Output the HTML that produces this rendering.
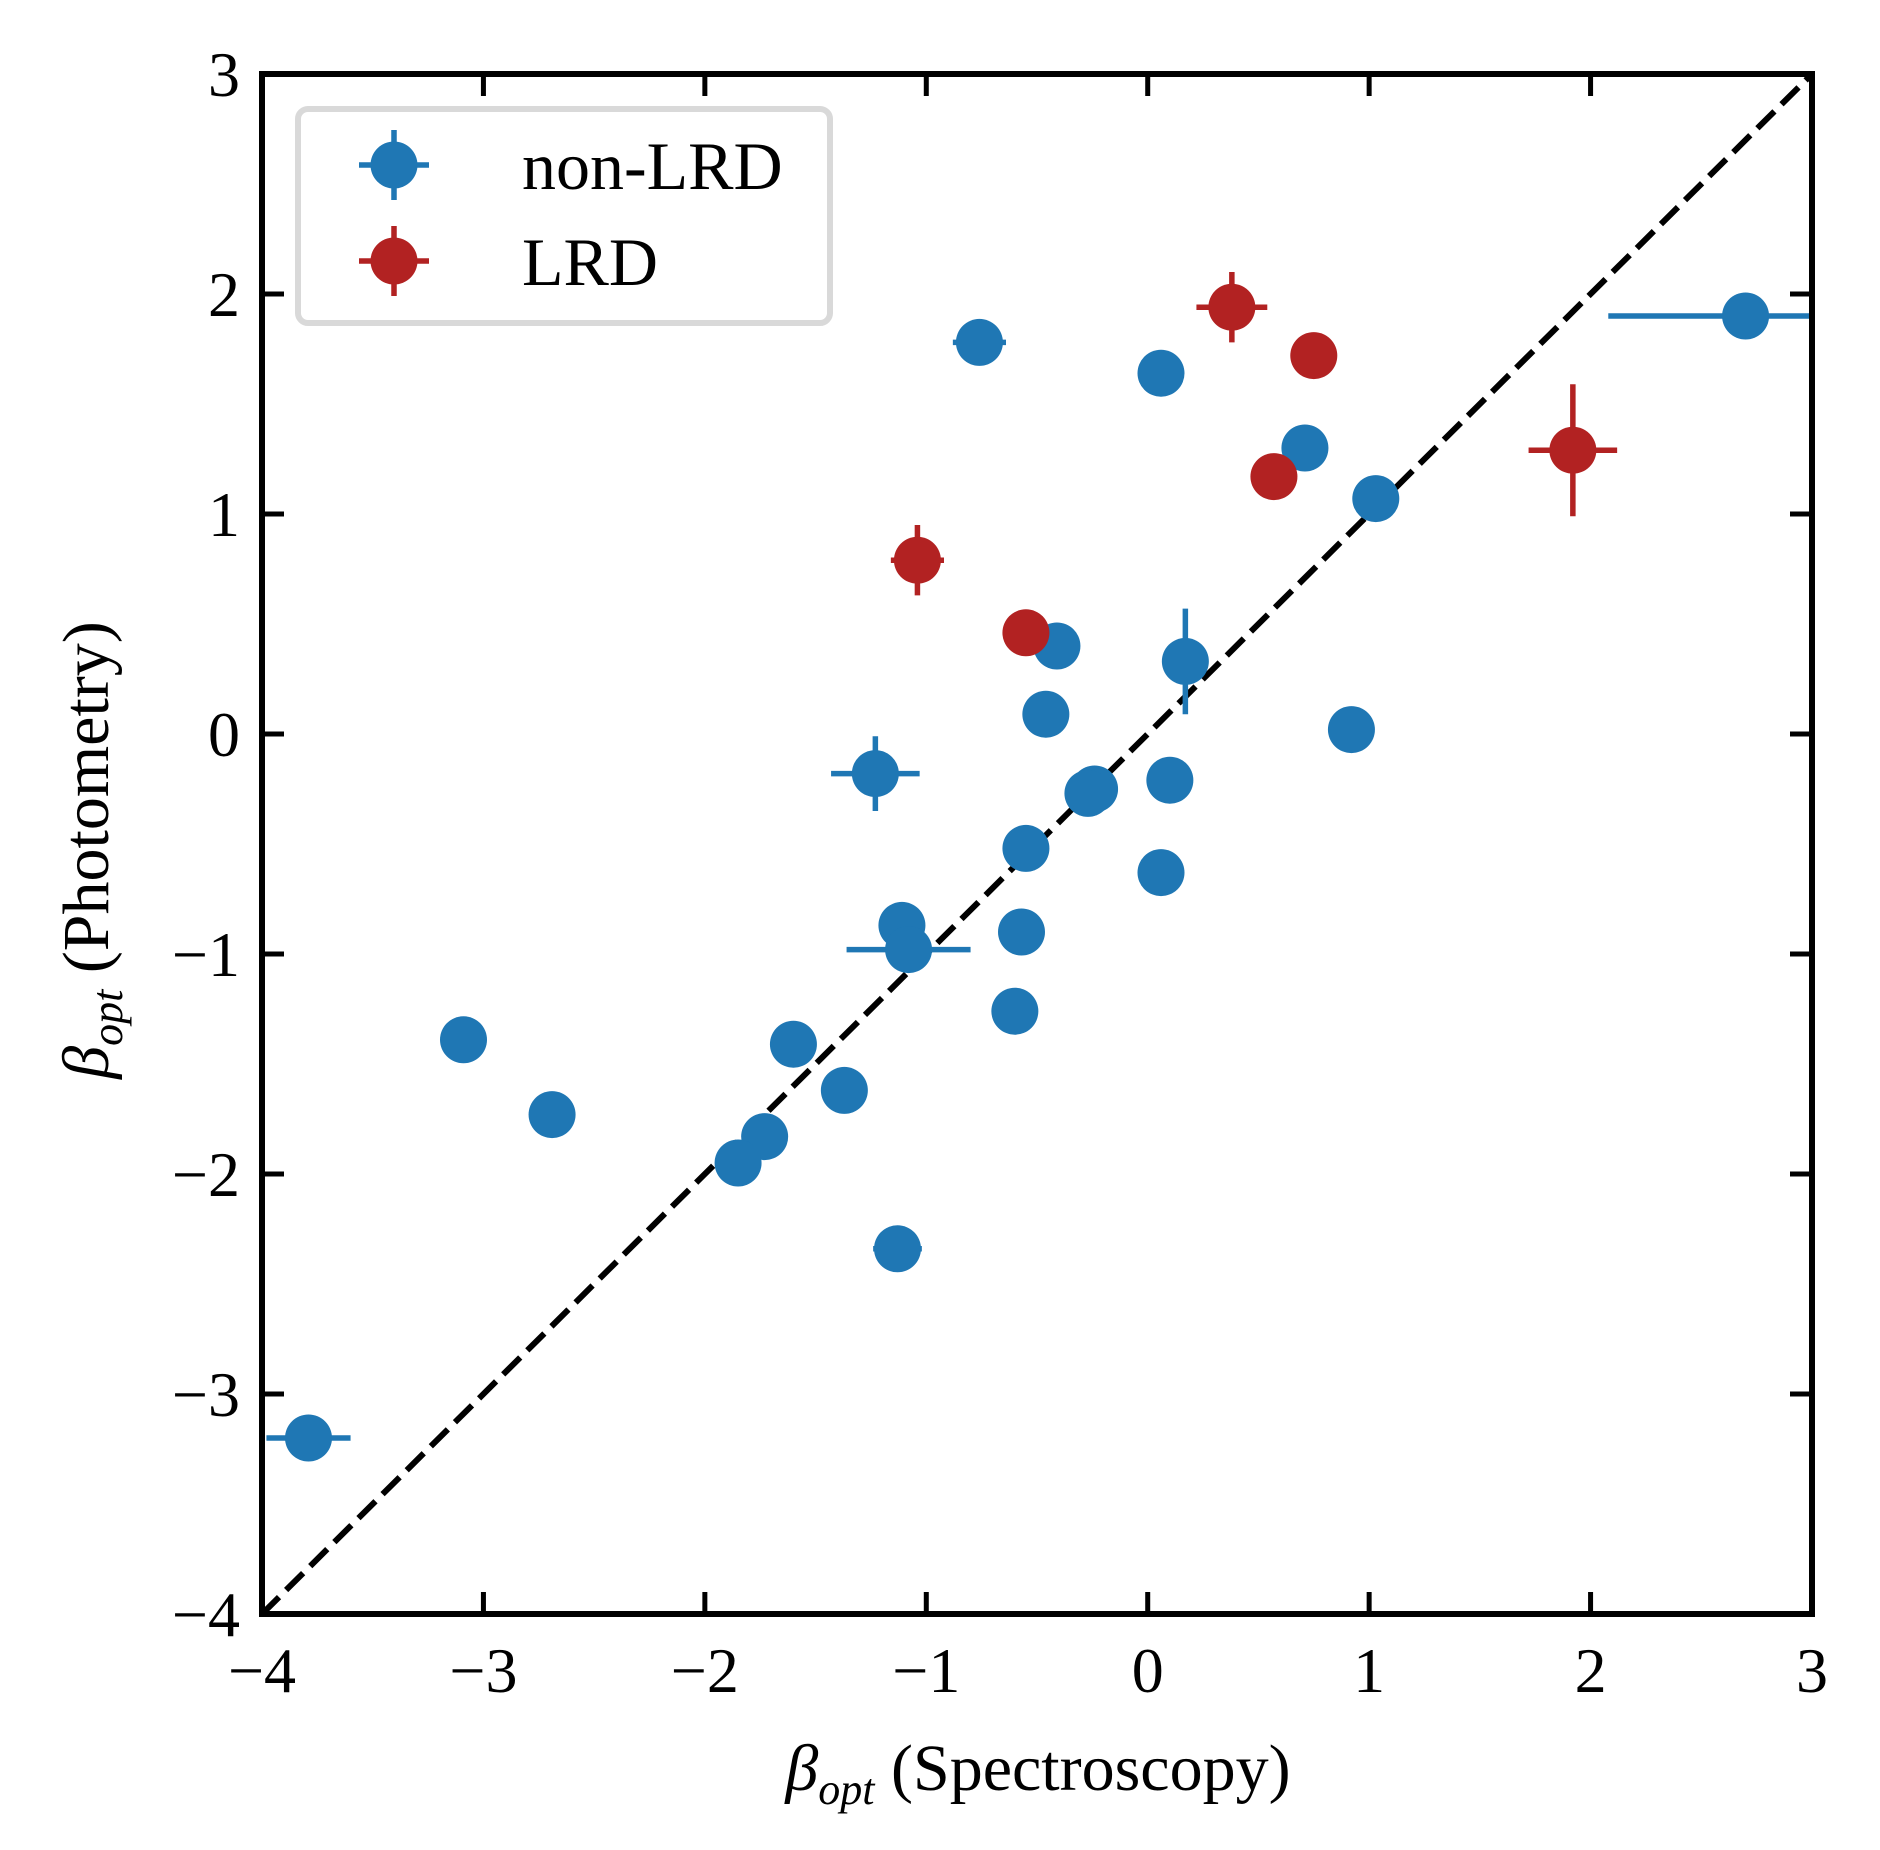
<!DOCTYPE html>
<html><head><meta charset="utf-8"><style>
html,body{margin:0;padding:0;background:#fff;width:1880px;height:1850px;overflow:hidden}
text{font-family:"Liberation Serif","DejaVu Serif",serif;fill:#000}
</style></head><body>
<svg id="chart" width="1880" height="1850" viewBox="0 0 1880 1850" xmlns="http://www.w3.org/2000/svg">
</svg>
<script>
const nonX=[-0.76,0.06,0.71,1.03,2.70,-0.41,0.17,-0.46,0.92,-1.23,0.10,-0.24,-0.27,-0.55,0.06,-1.11,-1.08,-0.57,-0.60,-3.09,-1.60,-1.37,-2.69,-1.73,-1.85,-1.13,-3.79];
const nonY=[1.78,1.64,1.30,1.07,1.90,0.40,0.33,0.09,0.02,-0.18,-0.21,-0.25,-0.27,-0.52,-0.63,-0.87,-0.98,-0.90,-1.26,-1.39,-1.41,-1.62,-1.73,-1.83,-1.95,-2.34,-3.20];
const nonXerr=[0.12,0,0,0,0.62,0,0,0,0,0.20,0,0,0,0,0,0,0.28,0,0,0,0,0,0,0,0,0.11,0.19];
const nonYerr=[0,0,0,0,0,0,0.24,0,0,0.17,0,0,0,0,0,0,0,0,0,0,0,0,0,0,0,0,0];
const lrdX=[0.38,0.75,0.57,1.92,-1.04,-0.55];
const lrdY=[1.94,1.72,1.17,1.29,0.79,0.46];
const lrdXerr=[0.16,0,0,0.20,0.12,0];
const lrdYerr=[0.16,0,0,0.30,0.16,0];
const xTicks=[-4,-3,-2,-1,0,1,2,3];
const yTicks=[-4,-3,-2,-1,0,1,2,3];

const X0=262,X1=1812,Y0=1614,Y1=74;
const sx=v=>X0+(v+4)/7*(X1-X0);
const sy=v=>Y0-(v+4)/7*(Y0-Y1);
const NS="http://www.w3.org/2000/svg";
const svg=document.getElementById('chart');
function mk(tag,attrs,parent){const e=document.createElementNS(NS,tag);for(const k in attrs)e.setAttribute(k,attrs[k]);(parent||svg).appendChild(e);return e;}

const diag=mk('line',{x1:sx(-4),y1:sy(-4),x2:sx(3),y2:sy(3),stroke:'#000','stroke-width':6,'stroke-dasharray':'24 10'});



function series(xs,ys,xe,ye,color,name){
  const g=mk('g',{});
  
  
  for(let i=0;i<xs.length;i++){
    if(xe[i]>0){const l=mk('line',{x1:sx(xs[i]-xe[i]),x2:sx(Math.min(xs[i]+xe[i],3)),y1:sy(ys[i]),y2:sy(ys[i]),stroke:color,'stroke-width':5.5},g);
      
      }
    if(ye[i]>0){const l=mk('line',{x1:sx(xs[i]),x2:sx(xs[i]),y1:sy(ys[i]-ye[i]),y2:sy(ys[i]+ye[i]),stroke:color,'stroke-width':5.5},g);
      
      }
    const c=mk('circle',{cx:sx(xs[i]),cy:sy(ys[i]),r:23.5,fill:color},g);
    
    
  }
}
series(nonX,nonY,nonXerr,nonYerr,'#1f77b4','non-lrd');
series(lrdX,lrdY,lrdXerr,lrdYerr,'#b22222','lrd');

mk('rect',{x:X1+3,y:0,width:70,height:1850,fill:'#fff'});

const fr=mk('rect',{x:X0,y:Y1,width:X1-X0,height:Y0-Y1,fill:'none',stroke:'#000','stroke-width':6});



xTicks.forEach(v=>{
  const x=sx(v);
  if(v>-4&&v<3){mk('line',{x1:x,x2:x,y1:Y0,y2:Y0-22,stroke:'#000','stroke-width':5});
  mk('line',{x1:x,x2:x,y1:Y1,y2:Y1+22,stroke:'#000','stroke-width':5});}
  const t=mk('text',{x:x,y:1692,'text-anchor':'middle','font-size':64});
  t.textContent=v<0?'\u2212'+(-v):String(v);
  
  
});
yTicks.forEach(v=>{
  const y=sy(v);
  if(v>-4&&v<3){mk('line',{x1:X0,x2:X0+22,y1:y,y2:y,stroke:'#000','stroke-width':5});
  mk('line',{x1:X1,x2:X1-22,y1:y,y2:y,stroke:'#000','stroke-width':5});}
  const t=mk('text',{x:240,y:y+22,'text-anchor':'end','font-size':64});
  t.textContent=v<0?'\u2212'+(-v):String(v);
  
  
});

const xl=mk('text',{x:1038,y:1790,'text-anchor':'middle','font-size':66});
xl.innerHTML='<tspan font-style="italic">β</tspan><tspan font-style="italic" font-size="44" dy="14">opt</tspan><tspan dy="-14"> (Spectroscopy)</tspan>';


const yl=mk('text',{x:0,y:0,'text-anchor':'middle','font-size':66,transform:'translate(108,850) rotate(-90)'});
yl.innerHTML='<tspan font-style="italic">β</tspan><tspan font-style="italic" font-size="44" dy="14">opt</tspan><tspan dy="-14"> (Photometry)</tspan>';



const lg=mk('g',{});


mk('rect',{x:298,y:109,width:532,height:214,rx:10,fill:'#fff',stroke:'#d9d9d9','stroke-width':6},lg);
[['non-LRD','#1f77b4',165],['LRD','#b22222',261]].forEach(([lab,col,y])=>{
  const e=mk('g',{},lg);
  
  
  mk('line',{x1:359,x2:429,y1:y,y2:y,stroke:col,'stroke-width':5.5},e);
  mk('line',{x1:394,x2:394,y1:y-35,y2:y+35,stroke:col,'stroke-width':5.5},e);
  mk('circle',{cx:394,cy:y,r:23.5,fill:col},e);
  const t=mk('text',{x:522,y:y+24,'font-size':68},e);
  t.textContent=lab;
});
</script>
</body></html>
